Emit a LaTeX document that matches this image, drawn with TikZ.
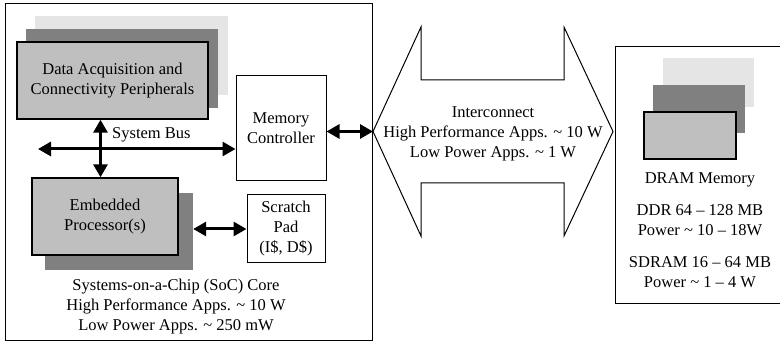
\documentclass[tikz,border=0pt]{standalone}
\usepackage{fontspec}
\setmainfont{Liberation Serif}
\usetikzlibrary{arrows.meta}
\definecolor{frontgray}{gray}{0.75}
\definecolor{darkgray}{gray}{0.5}
\definecolor{lightgray}{gray}{0.9}
\begin{document}
\begin{tikzpicture}[x=1pt,y=-1pt,
  every node/.style={font=\fontsize{16.5}{20}\selectfont, inner sep=0pt, align=center},
  frame/.style={draw=black, line width=1pt},
  plainbox/.style={draw=black, line width=1pt, fill=white},
  frontbox/.style={draw=black, line width=1.4pt, fill=frontgray},
  shade1/.style={fill=darkgray},
  shade2/.style={fill=lightgray},
  bus/.style={line width=3pt, {Triangle[length=13pt,width=14pt]}-{Triangle[length=13pt,width=14pt]}}
]
\useasboundingbox (0,0) rectangle (780,344);
\clip (0,0) rectangle (780,344);

% SoC core enclosure
\draw[frame] (5,4) rectangle (372,341);

% peripheral stack
\fill[shade2] (35,16) rectangle (228,95);
\fill[shade1] (26,29) rectangle (218,108);
\node[frontbox, minimum width=191, minimum height=77] (daq) at (112.5,80.5)
  {Data Acquisition and\\Connectivity Peripherals};

% memory controller
\node[plainbox, minimum width=90, minimum height=105] (memctl) at (281,128.5)
  {Memory\\Controller};

% embedded processor with its shadow
\node[shade1, minimum width=148, minimum height=77] (procshadow) at (119,231.5) {};
\node[frontbox, minimum width=146, minimum height=77] (proc) at (105,216.5)
  {Embedded\\Processor(s)};

% scratch pad
\node[plainbox, minimum width=78, minimum height=68] (scratch) at (286,229)
  {Scratch\\Pad\\(I\$, D\$)};

% system bus
\coordinate (busL) at (38,149);
\draw[bus] (busL) -- (busL -| memctl.west);
\draw[bus] (daq.south -| 100.5,0) -- (proc.north -| 100.5,0);
\node[anchor=west] (buslabel) at (112,135) {System Bus};

\draw[bus] (procshadow.east |- scratch.west) -- (scratch.west);

% SoC caption
\node (soclabel) at (176,306.5)
  {Systems-on-a-Chip (SoC) Core\\High Performance Apps. \textasciitilde\ 10 W\\Low Power Apps. \textasciitilde\ 250 mW};

% interconnect double arrow
\coordinate (icL) at (373,131.5);
\coordinate (icR) at (613,131.5);
\draw[frame, fill=white] (icL) -- (421,27) -- (421,80) -- (564,80) -- (564,27) -- (icR)
  -- (564,236) -- (564,183) -- (421,183) -- (421,236) -- cycle;
\node (iclabel) at (493,134)
  {Interconnect\\High Performance Apps. \textasciitilde\ 10 W\\Low Power Apps. \textasciitilde\ 1 W};

\draw[bus] (memctl.east |- icL) -- (icL);

% DRAM memory
\draw[frame] (615,47) rectangle (790,304);
\fill[shade2] (663,58) rectangle (754,107);
\fill[shade1] (653,85) rectangle (745,133);
\node[frontbox, minimum width=92, minimum height=47] (dramchip) at (690,135.5) {};
\node (dramlabel) at (700,180) {DRAM Memory};
\node (ddr) at (700,220) {DDR 64 -- 128 MB\\Power \textasciitilde\ 10 -- 18W};
\node (sdram) at (700,272) {SDRAM 16 -- 64 MB\\Power \textasciitilde\ 1 -- 4 W};
\end{tikzpicture}
\end{document}
